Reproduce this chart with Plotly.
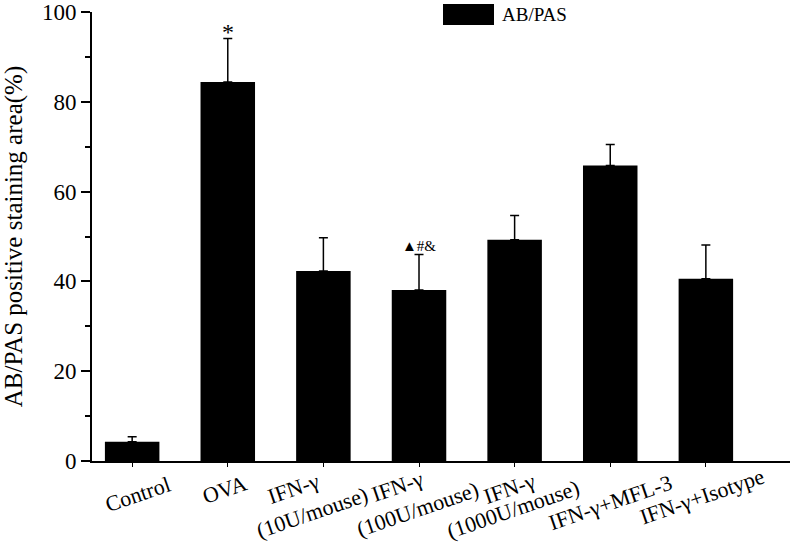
import plotly.graph_objects as go

categories = ["Control", "OVA", "IFN-γ<br>(10U/mouse)", "IFN-γ<br>(100U/mouse)",
              "IFN-γ<br>(1000U/mouse)", "IFN-γ+MFL-3", "IFN-γ+Isotype"]
values = [4.3, 84.4, 42.3, 38.1, 49.3, 65.8, 40.6]
errors = [1.1, 9.7, 7.4, 7.9, 5.4, 4.7, 7.5]
marks = ["", "*", "", "▲#&", "", "", ""]
series_name = "AB/PAS"
y_ticks = [0, 20, 40, 60, 80, 100]

# label placement (style only): pixel offsets (dx, dy) of each rotated label line centre
label_offsets = [
    [(5, -33)],
    [(-3, -28)],
    [(-30, -27), (-11, -51)],
    [(-22, -25), (-2, -48)],
    [(-5, -27), (-2, -48)],
    [(0, -41)],
    [(-4, -35)],
]

FONT = "Liberation Serif, Times New Roman, serif"
TOP, BOTTOM = 12, 83
PLOT_H = 544 - TOP - BOTTOM

fig = go.Figure()
fig.add_trace(go.Bar(
    x=categories, y=values, name=series_name, width=0.57,
    marker=dict(color="black", line=dict(width=0)),
    error_y=dict(type="data", symmetric=False, array=errors,
                 arrayminus=[0] * len(errors), color="black",
                 thickness=1.5, width=4.5),
    showlegend=False,
))

annotations = []
for c, v, e, m, offs in zip(categories, values, errors, marks, label_offsets):
    if m:
        star = m == "*"
        annotations.append(dict(x=c, y=v + e, xref="x", yref="y", text=m,
                                showarrow=False, yanchor="bottom",
                                yshift=-9 if star else -2,
                                font=dict(family=FONT, size=24 if star else 15,
                                          color="black")))
    for line, (dx, dy) in zip(c.split("<br>"), offs):
        annotations.append(dict(x=c, y=0, xref="x", yref="paper", text=line,
                                showarrow=False, textangle=-19,
                                xanchor="center", yanchor="middle",
                                xshift=dx, yshift=dy,
                                font=dict(family=FONT, size=22, color="black")))

# legend drawn manually
fig.add_shape(type="rect", xref="paper", yref="paper",
              x0=(443 - 92) / 698, x1=(494 - 92) / 698,
              y0=(461 - 25) / PLOT_H, y1=(461 - 4) / PLOT_H,
              fillcolor="black", line=dict(width=0))
annotations.append(dict(x=(500 - 92) / 698, y=(461 - 15) / PLOT_H, xref="paper", yref="paper",
                        text=series_name, showarrow=False, xanchor="left", yanchor="middle",
                        font=dict(family=FONT, size=19, color="black")))

fig.update_layout(
    width=792, height=544,
    margin=dict(l=92, r=2, t=TOP, b=BOTTOM, autoexpand=False),
    plot_bgcolor="white", paper_bgcolor="white",
    font=dict(family=FONT, color="black"),
    annotations=annotations,
    xaxis=dict(range=[-0.42, 6.88], showline=True, linecolor="black", linewidth=2,
               ticks="outside", ticklen=4, tickcolor="black", showticklabels=False,
               showgrid=False, zeroline=False, automargin=False),
    yaxis=dict(range=[0, 100], tickvals=y_ticks, showline=True, linecolor="black",
               linewidth=2, ticks="outside", ticklen=9, tickwidth=1.5, tickcolor="black",
               minor=dict(dtick=10, ticks="outside", ticklen=5, tickwidth=1.5, tickcolor="black"),
               showgrid=False, zeroline=False, ticklabeloverflow="allow", automargin=False,
               tickfont=dict(family=FONT, size=23, color="black"),
               title=dict(text="AB/PAS positive staining area(%)", standoff=14,
                          font=dict(family=FONT, size=25, color="black"))),
)

fig.write_html("out.html", config={"displayModeBar": False},
               post_script="document.body.style.margin='0';")
